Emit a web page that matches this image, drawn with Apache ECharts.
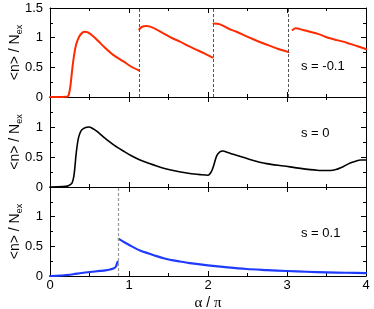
<!DOCTYPE html>
<html><head><meta charset="utf-8">
<script src="https://cdn.jsdelivr.net/npm/echarts/dist/echarts.min.js"></script>
<style>html,body{margin:0;padding:0;background:#fff}#c{width:374px;height:309px}</style>
</head><body><div id="c"></div>
<script>
// ---- data ----
const xTickLabels = ['0', '1', '2', '3', '4'];
const yTickLabels = ['0', '0.5', '1', '1.5'];
const panelLabels = ['s = -0.1', 's = 0', 's = 0.1'];
const dashesTop = [1.127, 2.067, 3.025];
const dashesBottom = [0.857];

const redSeg1 = [[0,0],[0.1,0],[0.2,0.003],[0.225,0.01],[0.24,0.05],[0.26,0.2],[0.28,0.45],[0.3,0.66],[0.33,0.88],[0.37,1.02],[0.41,1.085],[0.44,1.1],[0.48,1.09],[0.55,1.02],[0.62,0.93],[0.68,0.85],[0.8,0.71],[0.93,0.6],[1.03,0.51],[1.127,0.447]];
const redSeg2 = [[1.13,1.14],[1.16,1.18],[1.22,1.196],[1.3,1.17],[1.435,1.074],[1.55,0.99],[1.646,0.933],[1.75,0.86],[1.857,0.794],[1.96,0.73],[2.06,0.665]];
const redSeg3 = [[2.07,1.24],[2.152,1.225],[2.278,1.14],[2.363,1.1],[2.474,1.03],[2.574,0.973],[2.68,0.915],[2.785,0.861],[2.89,0.81],[3.0,0.765],[3.02,0.757]];
const redSeg4 = [[3.07,1.13],[3.11,1.157],[3.2,1.13],[3.29,1.1],[3.4,1.06],[3.5,1.007],[3.6,0.97],[3.71,0.933],[3.8,0.895],[3.88,0.861],[3.95,0.83],[4.0,0.805]];
const blackCurve = [[0,0],[0.1,0.002],[0.2,0.01],[0.232,0.02],[0.274,0.057],[0.29,0.11],[0.304,0.197],[0.318,0.37],[0.329,0.53],[0.345,0.7],[0.359,0.81],[0.38,0.9],[0.401,0.95],[0.45,0.99],[0.494,1.0],[0.54,0.975],[0.591,0.93],[0.65,0.865],[0.718,0.79],[0.82,0.69],[0.928,0.6],[1.03,0.52],[1.14,0.45],[1.25,0.395],[1.35,0.35],[1.45,0.31],[1.56,0.275],[1.67,0.247],[1.77,0.225],[1.9,0.207],[2.0,0.197],[2.04,0.25],[2.07,0.35],[2.11,0.52],[2.15,0.585],[2.19,0.6],[2.25,0.575],[2.32,0.545],[2.53,0.46],[2.74,0.39],[2.96,0.35],[3.17,0.31],[3.38,0.28],[3.55,0.275],[3.62,0.29],[3.68,0.32],[3.74,0.36],[3.8,0.4],[3.87,0.43],[3.93,0.45],[4.0,0.45]];
const blueSeg1 = [[0,0],[0.127,0.005],[0.2,0.015],[0.295,0.03],[0.4,0.05],[0.507,0.067],[0.633,0.085],[0.7,0.095],[0.76,0.11],[0.81,0.13],[0.835,0.16],[0.845,0.2],[0.855,0.24]];
const blueSeg2 = [[0.87,0.626],[0.94,0.57],[1.014,0.514],[1.14,0.43],[1.25,0.38],[1.35,0.335],[1.45,0.295],[1.56,0.263],[1.646,0.245],[1.77,0.218],[2.0,0.18],[2.25,0.145],[2.49,0.118],[2.75,0.1],[3.0,0.084],[3.25,0.072],[3.5,0.062],[3.75,0.055],[4.0,0.05]];

// ---- chart ----
const FONT = "'Liberation Sans', Arial, sans-serif";
const chart = echarts.init(document.getElementById('c'));
const grids = [
  {left: 50, right: 8, top: 8, height: 89, outerBoundsMode: 'none', containLabel: false},
  {left: 50, right: 8, top: 97, height: 90, outerBoundsMode: 'none', containLabel: false},
  {left: 50, right: 8, top: 187, height: 89, outerBoundsMode: 'none', containLabel: false}
];
const axisLine = {show: true, onZero: false, lineStyle: {color: '#000', width: 1}};
const tick = {show: true, inside: true, length: 5, lineStyle: {color: '#000'}};
const minor = {show: true, splitNumber: 2, length: 3, lineStyle: {color: '#000'}};
const xAxes = [], yAxes = [];
grids.forEach((g, i) => {
  const xmin = +xTickLabels[0], xmax = +xTickLabels[xTickLabels.length - 1];
  const ymin = +yTickLabels[0], ymax = +yTickLabels[yTickLabels.length - 1];
  xAxes.push({
    type: 'value', gridIndex: i, position: 'bottom', min: xmin, max: xmax, interval: 1,
    axisLine, axisTick: tick, minorTick: minor, splitLine: {show: false},
    axisLabel: {show: i === 2, margin: 3, fontSize: 13, fontFamily: FONT, color: '#000',
      formatter: v => xTickLabels[Math.round(v)]},
    name: i === 2 ? '{g|α} / {g|π}' : '', nameLocation: 'middle', nameGap: 20, nameMoveOverlap: false,
    nameTextStyle: {fontSize: 14, fontFamily: FONT, color: '#000',
      rich: {g: {fontSize: 15, fontFamily: "'Liberation Serif', serif", color: '#000'}}}
  });
  xAxes.push({
    type: 'value', gridIndex: i, position: 'top', min: xmin, max: xmax, interval: 1,
    axisLine, axisTick: tick, minorTick: minor, splitLine: {show: false}, axisLabel: {show: false}
  });
  yAxes.push({
    type: 'value', gridIndex: i, position: 'left', min: ymin, max: ymax, interval: 0.5,
    axisLine, axisTick: tick, minorTick: minor, splitLine: {show: false},
    axisLabel: {show: true, margin: 7, fontSize: 13, fontFamily: FONT, color: '#000',
      formatter: v => (i > 0 && v === ymax) ? '' : yTickLabels[Math.round(v * 2)]},
    name: '<n> / N{s|ex}', nameLocation: 'middle', nameRotate: 90, nameGap: 26, nameMoveOverlap: false,
    nameTextStyle: {fontSize: 14, fontFamily: FONT, color: '#000', lineHeight: 18,
      rich: {s: {fontSize: 9, fontFamily: FONT, color: '#000', verticalAlign: 'bottom', lineHeight: 10}}}
  });
  yAxes.push({
    type: 'value', gridIndex: i, position: 'right', min: ymin, max: ymax, interval: 0.5,
    axisLine, axisTick: tick, minorTick: minor, splitLine: {show: false}, axisLabel: {show: false}
  });
});

function line(data, color, width, panel, extra) {
  return Object.assign({
    type: 'line', data, xAxisIndex: panel * 2, yAxisIndex: panel * 2,
    symbol: 'none', smooth: 0.3, silent: true, animation: false,
    lineStyle: {color, width, join: 'round', cap: 'round'}, z: 3
  }, extra || {});
}
function dashes(xs, color, width) {
  return {silent: true, symbol: ['none', 'none'], label: {show: false}, animation: false,
    lineStyle: {type: [3, 2], color, width}, data: xs.map(x => ({xAxis: x}))};
}
const RED = '#ff2a00', BLUE = '#1f3bff';
const series = [
  line(redSeg1, RED, 2, 0, {markLine: dashes(dashesTop, '#555', 1)}),
  line(redSeg2, RED, 2, 0),
  line(redSeg3, RED, 2, 0),
  line(redSeg4, RED, 2, 0),
  line(blackCurve, '#000', 1.6, 1),
  line(blueSeg1, BLUE, 2.2, 2, {markLine: dashes(dashesBottom, '#999', 1.2)}),
  line(blueSeg2, BLUE, 2.2, 2)
];
const labelPos = [[301, 68], [301, 135], [301, 235]];
chart.setOption({
  animation: false,
  grid: grids,
  xAxis: xAxes,
  yAxis: yAxes,
  series,
  graphic: panelLabels.map((t, i) => ({
    type: 'text', left: labelPos[i][0], top: labelPos[i][1] - 8,
    style: {text: t, fontSize: 13, fontFamily: FONT, fill: '#000'}
  }))
});
</script></body></html>
